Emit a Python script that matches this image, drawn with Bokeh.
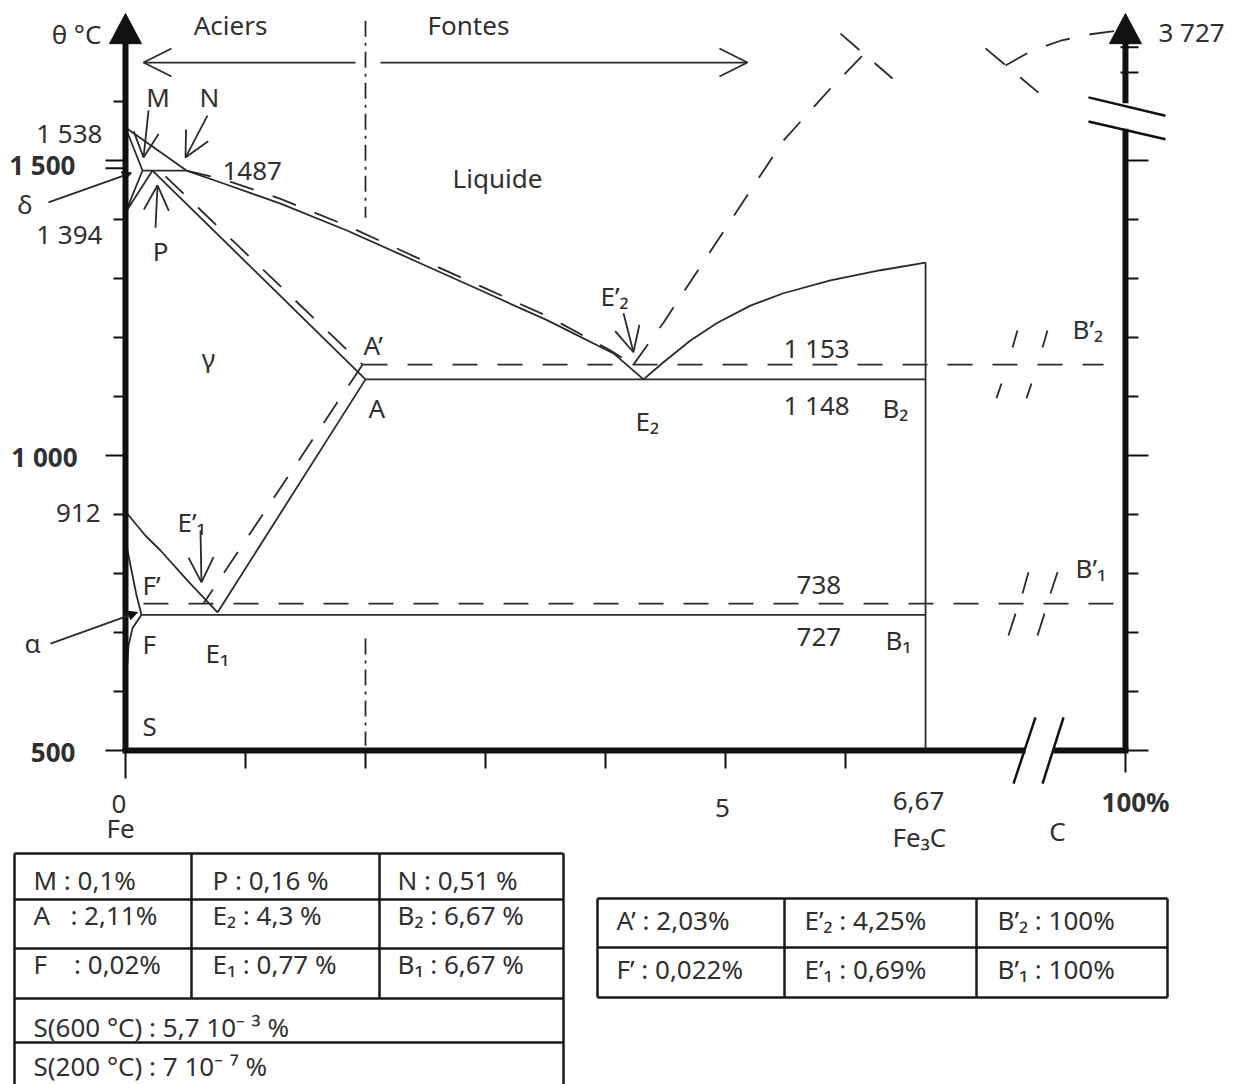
from bokeh.plotting import figure
from bokeh.models import Range1d, ColumnDataSource, Arrow, OpenHead, NormalHead
from bokeh.core.properties import value
from bokeh.embed import file_html
from bokeh.resources import INLINE

# ------------------------------------------------------------------
# DATA  (composition in % C, temperature in °C, as drawn on the diagram)
# ------------------------------------------------------------------
# metastable liquidus: Fe (1538) -> N -> E2
liq_C = [0.0, 0.508, 0.817, 1.292, 1.85, 2.4, 2.958, 3.517, 4.067, 4.317]
liq_T = [1556, 1483, 1461, 1427, 1381, 1331, 1280, 1229, 1173, 1129]
# stable liquidus (dashed): N -> E'2
liqst_C = [0.508, 0.817, 1.292, 1.85, 2.4, 2.958, 3.517, 4.042, 4.233]
liqst_T = [1483, 1468, 1435, 1389, 1338, 1287, 1236, 1178, 1154]
# cementite liquidus: E2 -> Fe3C
cem_C = [4.317, 4.483, 4.708, 4.933, 5.208, 5.483, 5.875, 6.292, 6.667]
cem_T = [1129, 1158, 1195, 1225, 1254, 1275, 1297, 1314, 1327]
# graphite liquidus (dashed): E'2 -> break, then break -> 3727 °C
gra_C = [4.233, 4.483, 4.933, 5.483, 5.875, 6.142]
gra_T = [1154, 1225, 1364, 1534, 1622, 1678]
gra2_C = [7.333, 7.542, 7.792, 8.042, 8.333]
gra2_T = [1661, 1685, 1703, 1714, 1722]
# delta domain: Fe 1538 -> M -> Fe 1394 -> P
delta_C = [0.0, 0.142, 0.0, 0.225]
delta_T = [1556, 1483, 1412, 1483]
# peritectic M-N
perit_C = [0.142, 0.508]
perit_T = [1483, 1483]
# gamma solidus P -> A, and stable one -> A'
sol_C = [0.225, 2.0]
sol_T = [1483, 1129]
solst_C = [0.333, 1.975]
solst_T = [1473, 1154]
# Acm: A -> E1, stable A' -> E'1
acm_C = [2.0, 0.767]
acm_T = [1129, 734]
acmst_C = [1.975, 0.65]
acmst_T = [1154, 749]
# A3: 912 -> E1
a3_C = [0.0, 0.167, 0.292, 0.517, 0.767]
a3_T = [905, 864, 839, 788, 734]
# alpha / alpha+gamma boundary, and solvus F -> S
alp_C = [0.0, 0.05, 0.092, 0.133]
alp_T = [856, 805, 763, 730]
solv_C = [0.133, 0.058, 0.025, 0.0]
solv_T = [730, 707, 678, 600]
# horizontals (drawn levels)
eut_C, eut_T = [2.0, 6.667], [1129, 1129]            # 1148
eutst_C, eutst_T = [1.975, 8.15], [1154, 1154]       # 1153
eud_C, eud_T = [0.133, 6.667], [730, 730]            # 727
eudst_C, eudst_T = [0.15, 8.267], [749, 749]         # 738
fe3c_C, fe3c_T = [6.667, 6.667], [1327, 500]
# steels / cast irons separator (2 %)
sep_x0 = [2.0, 2.0]
sep_T0 = [1737, 690]
sep_T1 = [1403, 508]

# break marks of the graphite liquidus (dashed)
brk_x0 = [5.958, 7.167]
brk_y0 = [1715, 1690]
brk_x1 = [6.392, 7.608]
brk_y1 = [1639, 1615]
# break marks of the dashed 1153 / 738 lines
hb_x0 = [7.258, 7.392, 7.508, 7.642, 7.358, 7.475, 7.6, 7.708]
hb_y0 = [1097, 1183, 1097, 1183, 695, 766, 695, 766]
hb_x1 = [7.3, 7.433, 7.55, 7.683, 7.417, 7.525, 7.658, 7.767]
hb_y1 = [1122, 1212, 1122, 1212, 732, 802, 732, 802]

# axes
C_RIGHT = 8.333           # position of the 100 % C axis (after the break)
T_TOP = 1749              # tip of the axis arrows
T_HEAD = 1700             # base of the axis arrows
left_ticks = [500, 600, 700, 800, 900, 1000, 1100, 1200, 1300, 1400, 1487, 1500, 1600]
left_long = [500, 1000, 1487, 1500]
right_ticks = [500, 600, 700, 800, 900, 1000, 1100, 1200, 1300, 1400, 1500]
right_long = [500, 1000, 1500]
right_top_ticks = [1649, 1692]
bottom_ticks = [0, 1, 2, 3, 4, 5, 6, C_RIGHT]

# label arrows
la_x0 = [0.192, 0.683, 0.25, 4.15, 0.625]
la_y0 = [1585, 1576, 1386, 1241, 873]
la_x1 = [0.15, 0.5, 0.267, 4.233, 0.633]
la_y1 = [1505, 1505, 1458, 1175, 785]
# pointers delta / alpha
pt_x0 = [-0.642, -0.625]
pt_y0 = [1429, 681]
pt_x1 = [0.05, 0.1]
pt_y1 = [1479, 734]
# Aciers / Fontes arrows
af_x0 = [1.917, 2.125]
af_x1 = [0.15, 5.183]
af_T = 1666

# labels (text baseline positions)
lab_l_text = ["1487", "E’₂", "A’", "1 153", "B₂", "B’₂", "A", "E₂", "1 148", "E’₁", "F’",
              "738", "B’₁", "F", "E₁", "727", "B₁", "S", "Fe₃C", "3 727"]
lab_l_C = [0.808, 3.958, 1.983, 5.483, 6.308, 7.892, 2.025, 4.25, 5.483, 0.433, 0.142,
           5.592, 7.917, 0.142, 0.667, 5.592, 6.333, 0.142, 6.392, 8.608]
lab_l_T = [1483, 1271, 1187, 1183, 1081, 1215, 1081, 1059, 1085, 887, 780,
           780, 810, 681, 665, 692, 687, 542, 353, 1717]
lab_c_text = ["θ °C", "Aciers", "Fontes", "Liquide", "M", "N", "δ", "P", "γ", "α",
              "0", "Fe", "5", "6,67", "C"]
lab_c_C = [-0.408, 0.875, 2.858, 3.1, 0.271, 0.7, -0.838, 0.292, 0.692, -0.775,
           -0.054, -0.042, 4.975, 6.608, 7.767]
lab_c_T = [1715, 1729, 1729, 1471, 1607, 1607, 1427, 1347, 1166, 683,
           410, 368, 403, 415, 364]
lab_r_text = ["1 538", "1 394", "912"]
lab_r_C = [-0.192, -0.192, -0.208]
lab_r_T = [1546, 1376, 903]
lab_rb_text = ["1 500", "1 000", "500"]
lab_rb_C = [-0.417, -0.4, -0.417]
lab_rb_T = [1492, 997, 497]
lab_cb_text = ["100%"]
lab_cb_C = [8.417]
lab_cb_T = [412]

# tables
NB = "\u00a0"
tab1_text = ["M : 0,1%", "P : 0,16 %", "N : 0,51 %",
             "A" + NB * 3 + ": 2,11%", "E₂ : 4,3 %", "B₂ : 6,67 %",
             "F" + NB * 4 + ": 0,02%", "E₁ : 0,77 %", "B₁ : 6,67 %",
             "S(600 °C) : 5,7 10⁻ ³ %", "S(200 °C) : 7 10⁻ ⁷ %"]
tab2_text = ["A’ : 2,03%", "E’₂ : 4,25%", "B’₂ : 100%",
             "F’ : 0,022%", "E’₁ : 0,69%", "B’₁ : 100%"]

# ------------------------------------------------------------------
# FIGURE
# ------------------------------------------------------------------
W, H = 1236, 1084
PX_C, PX_T = 120.0, 0.59          # px per % C, px per °C
x0 = -125 / PX_C
y0 = 500 - (H - 750) / PX_T

p = figure(width=W, height=H, x_range=Range1d(x0, x0 + W / PX_C),
           y_range=Range1d(y0, y0 + H / PX_T), output_backend="svg",
           toolbar_location=None, x_axis_type=None, y_axis_type=None,
           min_border=0, title=None)
p.outline_line_color = None
p.background_fill_color = "white"
p.border_fill_color = "white"
p.extra_x_ranges = {"px": Range1d(0, W)}
p.extra_y_ranges = {"px": Range1d(H, 0)}

LINE = "#2a2a2a"
AX = "#111111"
TXT = "#303030"
FONT = value("Noto Sans")
FS = "26px"
LW = 1.8
DASH = "25 20"

# solid phase lines
for xs, ys in [(liq_C, liq_T), (cem_C, cem_T), (delta_C, delta_T), (perit_C, perit_T),
               (sol_C, sol_T), (acm_C, acm_T), (a3_C, a3_T), (alp_C, alp_T),
               (solv_C, solv_T), (eut_C, eut_T), (eud_C, eud_T), (fe3c_C, fe3c_T)]:
    p.line(xs, ys, line_color=LINE, line_width=LW)

# dashed (stable system) lines
for xs, ys in [(liqst_C, liqst_T), (gra_C, gra_T), (gra2_C, gra2_T), (solst_C, solst_T),
               (acmst_C, acmst_T), (eutst_C, eutst_T), (eudst_C, eudst_T)]:
    p.line(xs, ys, line_color=LINE, line_width=LW, line_dash=DASH)
p.segment(brk_x0, brk_y0, brk_x1, brk_y1, line_color=LINE, line_width=LW, line_dash=DASH)
p.segment(hb_x0, hb_y0, hb_x1, hb_y1, line_color=LINE, line_width=LW)

# 2 % separator (dash-dot)
p.segment(sep_x0, sep_T0, sep_x0, sep_T1, line_color=LINE, line_width=LW, line_dash="16 6 3 6")

# ---- axes ----
cx = 1.0 / PX_C
ct = 1.0 / PX_T
p.segment([0, C_RIGHT, C_RIGHT], [500, 500, 1597], [0, C_RIGHT, C_RIGHT], [T_HEAD, 1554, T_HEAD],
          line_color=AX, line_width=6)
p.segment([0 - 3 * cx, 7.733], [500, 500], [7.5, C_RIGHT + 3 * cx], [500, 500],
          line_color=AX, line_width=6)
for cpos in [0, C_RIGHT]:
    p.patch([cpos, cpos - 16 * cx, cpos + 16 * cx], [T_TOP, T_HEAD - 2, T_HEAD - 2],
            fill_color=AX, line_color=AX, line_width=1)
# axis breaks
p.segment([C_RIGHT - 37 * cx, C_RIGHT - 37 * cx], [1607, 1566],
          [C_RIGHT + 40 * cx, C_RIGHT + 40 * cx], [1576, 1536], line_color=AX, line_width=2.5)
p.segment([7.4, 7.642], [444, 444], [7.583, 7.817], [556, 556], line_color=AX, line_width=2.5)

# ticks
lt_len = [20 if t in left_long else 12 for t in left_ticks]
p.segment([-l * cx for l in lt_len], left_ticks, [0] * len(left_ticks), left_ticks,
          line_color=AX, line_width=2)
rt_len = [23 if t in right_long else 13 for t in right_ticks]
p.segment([C_RIGHT] * len(right_ticks), right_ticks, [C_RIGHT + l * cx for l in rt_len],
          right_ticks, line_color=AX, line_width=2)
p.segment([C_RIGHT - 5 * cx] * 2, right_top_ticks, [C_RIGHT + 13 * cx] * 2, right_top_ticks,
          line_color=AX, line_width=2)
bt_len = [28 if c == 0 else (22 if c == C_RIGHT else 18) for c in bottom_ticks]
p.segment(bottom_ticks, [500] * len(bottom_ticks), bottom_ticks,
          [500 - l * ct for l in bt_len], line_color=AX, line_width=2)

# ---- arrows ----
def add_arrows(xs0, ys0, xs1, ys1, head, lw=LW):
    src = ColumnDataSource(dict(x0=xs0, y0=ys0, x1=xs1, y1=ys1))
    p.add_layout(Arrow(end=head, source=src, x_start="x0", y_start="y0", x_end="x1",
                       y_end="y1", line_color=LINE, line_width=lw))

add_arrows(la_x0, la_y0, la_x1, la_y1, OpenHead(size=25, line_color=LINE, line_width=LW))
add_arrows(pt_x0, pt_y0, pt_x1, pt_y1,
           NormalHead(size=9, fill_color=AX, line_color=AX, line_width=1))
add_arrows(af_x0, [af_T] * 2, af_x1, [af_T] * 2,
           OpenHead(size=28, line_color=LINE, line_width=LW))

# ---- labels ----
def labels(txt, xs, ys, align, style="normal", xr="default", yr="default", size=FS):
    src = ColumnDataSource(dict(x=xs, y=ys, t=txt))
    kw = {}
    if xr != "default":
        kw = dict(x_range_name=xr, y_range_name=yr)
    p.text("x", "y", text="t", source=src, text_font=FONT, text_font_size=size,
           text_color=TXT, text_align=align, text_baseline="alphabetic",
           text_font_style=style, **kw)

labels(lab_l_text, lab_l_C, lab_l_T, "left")
labels(lab_c_text, lab_c_C, lab_c_T, "center")
labels(lab_r_text, lab_r_C, lab_r_T, "right")
labels(lab_rb_text, lab_rb_C, lab_rb_T, "right", "bold")
labels(lab_cb_text, lab_cb_C, lab_cb_T, "center", "bold")

# ---- tables (page-pixel coordinates) ----
TL = dict(line_color="#1a1a1a", line_width=2.5, x_range_name="px", y_range_name="px")
p.segment([14] * 5, [853, 899, 948, 998, 1042], [563] * 5, [853, 899, 948, 998, 1042], **TL)
p.segment([14, 563, 191, 379], [853, 853, 853, 853], [14, 563, 191, 379],
          [1090, 1090, 998, 998], **TL)
p.segment([597, 597, 597, 1167, 784, 976], [898, 947, 997, 898, 898, 898],
          [1167, 1167, 597, 1167, 784, 976], [898, 947, 898, 997, 997, 997], **TL)
p.segment([597], [997], [1167], [997], **TL)

t1_x = [33, 212, 397] * 3 + [33, 33]
t1_y = [879, 914, 963, 1026, 1065]
t1_yy = [t1_y[0]] * 3 + [t1_y[1]] * 3 + [t1_y[2]] * 3 + t1_y[3:]
labels(tab1_text, t1_x, t1_yy, "left", xr="px", yr="px")
t2_x = [616, 804, 997] * 2
t2_yy = [919] * 3 + [968] * 3
labels(tab2_text, t2_x, t2_yy, "left", xr="px", yr="px")

open("out.html", "w").write(file_html(p, INLINE))
